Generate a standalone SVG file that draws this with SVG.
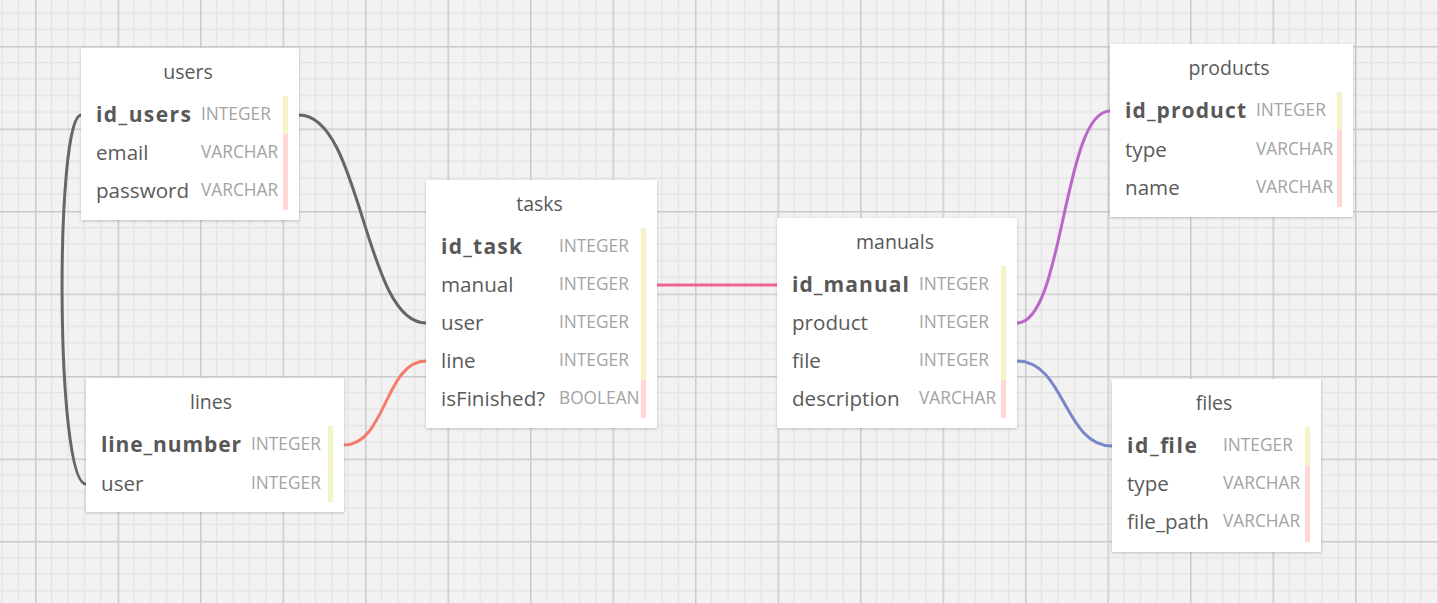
<svg xmlns="http://www.w3.org/2000/svg" width="1438" height="603" viewBox="0 0 1438 603">
<defs>
<pattern id="grid" patternUnits="userSpaceOnUse" x="35" y="46" width="82.5" height="82.5">
<rect width="82.5" height="82.5" fill="#f2f2f2"/>
<path d="M16.5 0V82.5M33 0V82.5M49.5 0V82.5M66 0V82.5M0 16.5H82.5M0 33H82.5M0 49.5H82.5M0 66H82.5" stroke="#e3e3e3" stroke-width="1.2" fill="none"/>
<path d="M0.75 0V82.5M0 0.75H82.5" stroke="#cbcbcb" stroke-width="1.6" fill="none"/>
</pattern>
<filter id="sh" x="-10%" y="-10%" width="120%" height="120%">
<feDropShadow dx="0" dy="1" stdDeviation="1.5" flood-color="#000" flood-opacity="0.22"/>
</filter>
</defs>
<style>
.box{fill:#fff;filter:url(#sh)}
.title{font-family:"Open Sans","Noto Sans",sans-serif;font-size:19.5px;fill:#585858;text-anchor:middle}
.name{font-family:"Open Sans","Noto Sans",sans-serif;font-size:20.6px;fill:#5a5a5a}
.pk{font-weight:bold;font-size:21px;fill:#585858}
.type{font-family:"Open Sans","Noto Sans",sans-serif;font-size:17.3px;fill:#a3a3a3}
.y{fill:#f5f4c6}
.p{fill:#ffd7d7}
.c{fill:none;stroke-width:3;stroke-linecap:round}
</style>
<rect width="1438" height="603" fill="url(#grid)"/>

<g id="connectors">
<path class="c" stroke="#666666" d="M299 115C362 115 364 323 426 323"/>
<path class="c" stroke="#666666" d="M81 115C55 115 55 484 86 484"/>
<path class="c" stroke="#f77b6b" d="M344 445C386 445 385 361 426 361"/>
<path class="c" stroke="#f06292" d="M657 285H777"/>
<path class="c" stroke="#ba68c8" d="M1017 323C1064 323 1063 111 1110 111"/>
<path class="c" stroke="#7986cb" d="M1017 361C1065 361 1064 446 1112 446"/>
</g>

<g id="users">
<rect class="box" x="81" y="48" width="218" height="172"/>
<text class="title" x="188" y="79">users</text>
<rect class="y" x="283" y="96" width="5" height="38"/>
<rect class="p" x="283" y="134" width="5" height="76"/>
<text class="name pk" x="96" y="122" textLength="95" lengthAdjust="spacing">id_users</text>
<text class="type" x="201" y="120">INTEGER</text>
<text class="name" x="96" y="160">email</text>
<text class="type" x="201" y="158">VARCHAR</text>
<text class="name" x="96" y="198">password</text>
<text class="type" x="201" y="196">VARCHAR</text>
</g>

<g id="lines">
<rect class="box" x="86" y="378" width="258" height="134"/>
<text class="title" x="211" y="409">lines</text>
<rect class="y" x="328" y="426" width="5" height="76"/>
<text class="name pk" x="101" y="452" textLength="140" lengthAdjust="spacing">line_number</text>
<text class="type" x="251" y="450">INTEGER</text>
<text class="name" x="101" y="491">user</text>
<text class="type" x="251" y="489">INTEGER</text>
</g>

<g id="tasks">
<rect class="box" x="426" y="180" width="231" height="248"/>
<text class="title" x="539.5" y="211">tasks</text>
<rect class="y" x="641" y="228" width="5" height="152"/>
<rect class="p" x="641" y="380" width="5" height="38"/>
<text class="name pk" x="441" y="254" textLength="81" lengthAdjust="spacing">id_task</text>
<text class="type" x="559" y="252">INTEGER</text>
<text class="name" x="441" y="292">manual</text>
<text class="type" x="559" y="290">INTEGER</text>
<text class="name" x="441" y="330">user</text>
<text class="type" x="559" y="328">INTEGER</text>
<text class="name" x="441" y="368">line</text>
<text class="type" x="559" y="366">INTEGER</text>
<text class="name" x="441" y="406">isFinished?</text>
<text class="type" x="559" y="404">BOOLEAN</text>
</g>

<g id="manuals">
<rect class="box" x="777" y="218" width="240" height="210"/>
<text class="title" x="895" y="249">manuals</text>
<rect class="y" x="1001" y="266" width="5" height="114"/>
<rect class="p" x="1001" y="380" width="5" height="38"/>
<text class="name pk" x="792" y="292" textLength="117" lengthAdjust="spacing">id_manual</text>
<text class="type" x="919" y="290">INTEGER</text>
<text class="name" x="792" y="330">product</text>
<text class="type" x="919" y="328">INTEGER</text>
<text class="name" x="792" y="368">file</text>
<text class="type" x="919" y="366">INTEGER</text>
<text class="name" x="792" y="406">description</text>
<text class="type" x="919" y="404">VARCHAR</text>
</g>

<g id="products">
<rect class="box" x="1110" y="44" width="243" height="173"/>
<text class="title" x="1229" y="75">products</text>
<rect class="y" x="1337" y="92" width="5" height="38"/>
<rect class="p" x="1337" y="130" width="5" height="77"/>
<text class="name pk" x="1125" y="118" textLength="121" lengthAdjust="spacing">id_product</text>
<text class="type" x="1256" y="116">INTEGER</text>
<text class="name" x="1125" y="157">type</text>
<text class="type" x="1256" y="155">VARCHAR</text>
<text class="name" x="1125" y="195">name</text>
<text class="type" x="1256" y="193">VARCHAR</text>
</g>

<g id="files">
<rect class="box" x="1112" y="379" width="209" height="173"/>
<text class="title" x="1214" y="410">files</text>
<rect class="y" x="1305" y="427" width="5" height="39"/>
<rect class="p" x="1305" y="466" width="5" height="76"/>
<text class="name pk" x="1127" y="453" textLength="70" lengthAdjust="spacing">id_file</text>
<text class="type" x="1223" y="451">INTEGER</text>
<text class="name" x="1127" y="491">type</text>
<text class="type" x="1223" y="489">VARCHAR</text>
<text class="name" x="1127" y="529">file_path</text>
<text class="type" x="1223" y="527">VARCHAR</text>
</g>
</svg>
